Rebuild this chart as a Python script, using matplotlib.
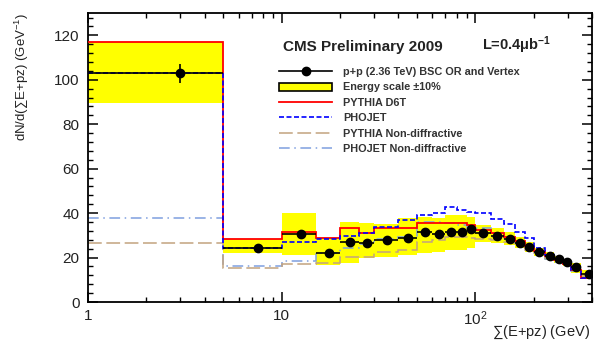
import matplotlib
matplotlib.use("Agg")
import matplotlib.pyplot as plt
import numpy as np
from matplotlib.lines import Line2D
from matplotlib.patches import Patch
from matplotlib.ticker import FixedLocator, MultipleLocator, FuncFormatter, NullFormatter

plt.rcParams['font.family'] = ['Liberation Sans', 'DejaVu Sans']
plt.rcParams['mathtext.fontset'] = 'custom'
plt.rcParams['mathtext.rm'] = 'Liberation Sans'
plt.rcParams['mathtext.it'] = 'Liberation Sans:italic'
plt.rcParams['mathtext.bf'] = 'Liberation Sans:bold'

# Bin edges in sum(E+pz) [GeV]
edges = [1, 5, 10, 15, 20, 25, 30, 40, 50, 60, 70, 80, 90, 100,
         120, 140, 160, 180, 200, 228, 256, 282, 310, 350, 420]

# Data: p+p at 2.36 TeV
data = [103, 24.3, 30.6, 22.0, 27.0, 26.7, 27.9, 28.8, 31.5, 30.6, 31.5, 31.5,
        32.8, 31.0, 29.5, 28.3, 26.7, 24.6, 22.6, 20.7, 19.2, 17.8, 15.6, 12.5]
data_err = [4.3, 1.0, 1.2, 1.0, 1.0, 1.0, 0.8, 0.8, 0.8, 0.8, 0.8, 0.8,
            0.8, 0.7, 0.7, 0.7, 0.7, 0.7, 0.6, 0.6, 0.6, 0.6, 0.6, 0.6]

# Energy scale +-10% band
band_lo = [89.5, 22.0, 21.1, 16.6, 17.4, 19.7, 20.4, 21.1, 21.9, 22.6, 23.4, 23.4,
           24.1, 27.1, 26.4, 25.6, 24.1, 22.5, 20.8, 19.0, 17.6, 16.3, 13.2, 10.5]
band_hi = [117, 28.3, 40.0, 28.6, 36.0, 35.4, 35.0, 37.6, 38.4, 37.6, 39.1, 39.1,
           38.4, 34.6, 33.1, 31.6, 29.4, 26.8, 24.4, 22.4, 20.8, 19.3, 17.4, 14.4]

# Monte Carlo predictions
pythia_d6t = [117, 28.2, 31.3, 29.0, 33.2, 31.0, 33.3, 33.3, 35.5, 35.5, 35.4, 35.4,
              34.6, 32.4, 30.9, 29.4, 27.6, 25.2, 22.9, 20.5, 19.0, 17.3, 14.5, 11.0]
phojet = [103, 24.3, 26.8, 28.3, 29.7, 30.9, 33.6, 36.9, 39.1, 40.2, 42.9, 41.4,
          40.6, 40.0, 37.5, 35.0, 31.6, 28.6, 24.1, 21.1, 19.9, 18.1, 14.4, 10.7]
pythia_nd = [26.7, 15.4, 17.0, 17.6, 20.1, 20.4, 22.6, 23.4, 27.0, 27.9, 29.1, 29.1,
             29.0, 28.5, 28.0, 27.0, 25.5, 23.5, 22.0, 20.0, 18.5, 17.0, 14.5, 11.5]
phojet_nd = [37.9, 16.2, 18.6, 22.2, 24.1, 26.0, 28.2, 29.4, 36.1, 36.1, 35.7, 34.5,
             33.5, 33.1, 31.0, 29.0, 26.5, 24.0, 21.5, 19.5, 18.0, 16.5, 14.0, 11.0]

c_red = '#ff0000'
c_blue = '#0000ff'
c_tan = '#c2a37f'
c_lblue = '#7f9fdf'
dash_blue = (0, (3, 1.5))
dash_tan = (0, (9, 3))
dash_lblue = (0, (7, 3, 1, 3))

edges_a = np.array(edges, dtype=float)
lefts = edges_a[:-1]
rights = edges_a[1:]
centers = 0.5 * (lefts + rights)

fig = plt.figure(figsize=(5.95, 3.44), dpi=100)
ax = fig.add_axes([0.148, 0.122, 0.847, 0.840])

# energy scale band
ax.bar(lefts, np.array(band_hi) - np.array(band_lo), bottom=band_lo,
       width=rights - lefts, align='edge', color='#ffff00', linewidth=0, zorder=1)

# histograms, no drop to zero at the outer edges
ax.stairs(phojet_nd, edges, baseline=None, color=c_lblue, lw=1.1,
          linestyle=dash_lblue, zorder=2)
ax.stairs(pythia_nd, edges, baseline=None, color=c_tan, lw=1.1,
          linestyle=dash_tan, zorder=2)
ax.stairs(pythia_d6t, edges, baseline=None, color=c_red, lw=1.3, zorder=3)
ax.stairs(phojet, edges, baseline=None, color=c_blue, lw=1.2,
          linestyle=dash_blue, zorder=3)

ax.errorbar(centers, data, yerr=data_err, xerr=[centers - lefts, rights - centers],
            fmt='o', color='black', ms=6, elinewidth=1.2, capsize=0, zorder=5)

ax.set_xscale('log')
ax.set_xlim(1, 400)
ax.set_ylim(0, 130)

ax.xaxis.set_major_locator(FixedLocator([1, 10, 100]))
ax.xaxis.set_major_formatter(FuncFormatter(
    lambda v, p: {1: '1', 10: '10', 100: r'$\mathregular{10^2}$'}.get(int(round(v)), '')))
ax.xaxis.set_minor_locator(FixedLocator(
    [m * d for d in (1, 10, 100) for m in range(2, 10) if m * d <= 400]))
ax.xaxis.set_minor_formatter(NullFormatter())
ax.yaxis.set_major_locator(MultipleLocator(20))
ax.yaxis.set_minor_locator(MultipleLocator(4))

ax.tick_params(which='both', direction='in', top=True, right=True, colors='black',
               labelcolor='#222222', labelsize=11)
ax.tick_params(which='major', length=7, width=1.1)
ax.tick_params(which='minor', length=3.5, width=1.0)
ax.tick_params(axis='y', pad=6)
ax.tick_params(axis='x', pad=5)
for sp in ax.spines.values():
    sp.set_linewidth(1.3)

fig.text(590 / 595, 1 - 332 / 344, r'$\sum$(E+pz) (GeV)', ha='right', va='center',
         fontsize=10.5, color='#222222')
fig.text(22 / 595, 1 - 13 / 344, r'dN/d($\sum$E+pz) (GeV$^{\mathregular{-1}}$)',
         rotation=90, ha='center', va='top', fontsize=9.5, color='#222222')

fig.text(283 / 595, 1 - 47 / 344, 'CMS Preliminary 2009', ha='left', va='center',
         fontsize=11, fontweight='bold', color='#222222')
fig.text(482 / 595, 1 - 45 / 344, r'L=0.4$\mathbf{\mu}$b$^{\mathbf{-1}}$', ha='left',
         va='center', fontsize=10.5, fontweight='bold', color='#222222')

handles = [
    Line2D([], [], color='black', marker='o', ms=6, lw=1.2),
    Patch(facecolor='#ffff00', edgecolor='black', linewidth=1.2),
    Line2D([], [], color=c_red, lw=1.3),
    Line2D([], [], color=c_blue, lw=1.2, linestyle=dash_blue),
    Line2D([], [], color=c_tan, lw=1.1, linestyle=dash_tan),
    Line2D([], [], color=c_lblue, lw=1.1, linestyle=dash_lblue),
]
labels = ['p+p (2.36 TeV) BSC OR and Vertex', 'Energy scale \u00b110%', 'PYTHIA D6T',
          'PHOJET', 'PYTHIA Non-diffractive', 'PHOJET Non-diffractive']
leg = fig.legend(handles, labels, loc='upper left',
                 bbox_to_anchor=(279 / 595, 1 - 67 / 344), frameon=False,
                 prop={'size': 7.8, 'weight': 'bold'}, handlelength=4.9,
                 handleheight=0.8, handletextpad=1.0, labelspacing=0.5,
                 borderpad=0, borderaxespad=0)
for t in leg.get_texts():
    t.set_color('#333333')

fig.savefig('out.png', dpi=100)
